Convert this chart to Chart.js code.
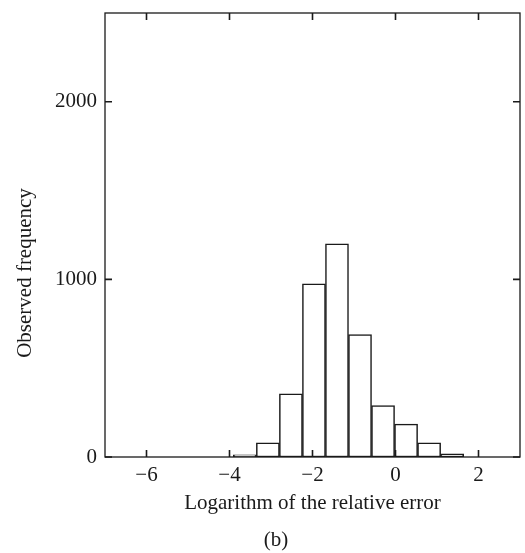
<!DOCTYPE html>
<html>
<head>
  <title>Observed frequency histogram</title>
  <script src="https://cdn.jsdelivr.net/npm/chart.js"></script>
  <style>
    body { margin: 0; background: #fff; }
    canvas { display: block; }
  </style>
</head>
<body>
  <canvas id="histChart" width="525" height="553"></canvas>

  <script>
    // histogram bins (centres) and counts
    const binCenters = [-3.63, -3.075, -2.52, -1.965, -1.41, -0.855, -0.30, 0.255, 0.81, 1.365];
    const counts = [12, 80, 355, 975, 1200, 690, 290, 185, 80, 18];
    const xTicks = [-6, -4, -2, 0, 2];
    const yTicks = [0, 1000, 2000];

    const serif = "'Liberation Serif', 'Times New Roman', serif";
    const ink = '#1a1a1a';

    // box + inward ticks on all four sides, y title (sits a bit low in the original) and "(b)"
    const frame = {
      id: 'frame',
      afterDraw(chart) {
        const ctx = chart.ctx;
        const a = chart.chartArea;
        const xs = chart.scales.x, ys = chart.scales.y;
        ctx.save();
        ctx.strokeStyle = ink;
        ctx.lineWidth = 1.3;
        ctx.strokeRect(a.left, a.top, a.right - a.left, a.bottom - a.top);
        ctx.lineWidth = 1.6;
        ctx.beginPath();
        xs.ticks.forEach(t => {
          const px = xs.getPixelForValue(t.value);
          ctx.moveTo(px, a.bottom); ctx.lineTo(px, a.bottom - 7);
          ctx.moveTo(px, a.top); ctx.lineTo(px, a.top + 7);
        });
        ys.ticks.forEach(t => {
          const py = ys.getPixelForValue(t.value);
          ctx.moveTo(a.left, py); ctx.lineTo(a.left + 7, py);
          ctx.moveTo(a.right, py); ctx.lineTo(a.right - 7, py);
        });
        ctx.stroke();
        ctx.fillStyle = ink;
        ctx.font = '21px ' + serif;
        ctx.textAlign = 'center';
        ctx.textBaseline = 'middle';
        ctx.fillText('(b)', 276, 540);
        ctx.translate(25, 273);
        ctx.rotate(-Math.PI / 2);
        ctx.fillText('Observed frequency', 0, 0);
        ctx.restore();
      }
    };

    const ctx = document.getElementById('histChart').getContext('2d');
    new Chart(ctx, {
      type: 'bar',
      data: {
        datasets: [{
          data: binCenters.map((c, i) => ({ x: c, y: counts[i] })),
          backgroundColor: '#ffffff',
          borderColor: ink,
          borderWidth: 1.5,
          borderSkipped: false,
          barPercentage: 1,
          categoryPercentage: 1
        }]
      },
      options: {
        responsive: false,
        animation: false,
        layout: { padding: { top: 13, right: 5, left: 0, bottom: 0 } },
        plugins: { legend: { display: false }, tooltip: { enabled: false } },
        scales: {
          x: {
            type: 'linear',
            offset: false,
            min: -7,
            max: 3,
            grid: { display: false, drawTicks: false, offset: false },
            border: { display: false },
            afterBuildTicks: s => { s.ticks = xTicks.map(v => ({ value: v })); },
            afterFit: s => { s.height = 96; s.paddingLeft = 0; s.paddingRight = 0; },
            ticks: {
              padding: 6,
              color: ink,
              font: { family: serif, size: 21 },
              callback: v => v < 0 ? '\u2212' + Math.abs(v) : String(v)
            },
            title: {
              display: true,
              text: 'Logarithm of the relative error',
              color: ink,
              font: { family: serif, size: 21 },
              padding: { top: 0, bottom: 37 }
            }
          },
          y: {
            min: 0,
            max: 2500,
            grid: { display: false, drawTicks: false },
            border: { display: false },
            afterBuildTicks: s => { s.ticks = yTicks.map(v => ({ value: v })); },
            afterFit: s => { s.width = 105; s.paddingTop = 0; s.paddingBottom = 0; },
            ticks: {
              padding: 8,
              color: ink,
              font: { family: serif, size: 21 },
              callback: v => String(v)
            },
            title: { display: false }
          }
        }
      },
      plugins: [frame]
    });
  </script>
</body>
</html>
